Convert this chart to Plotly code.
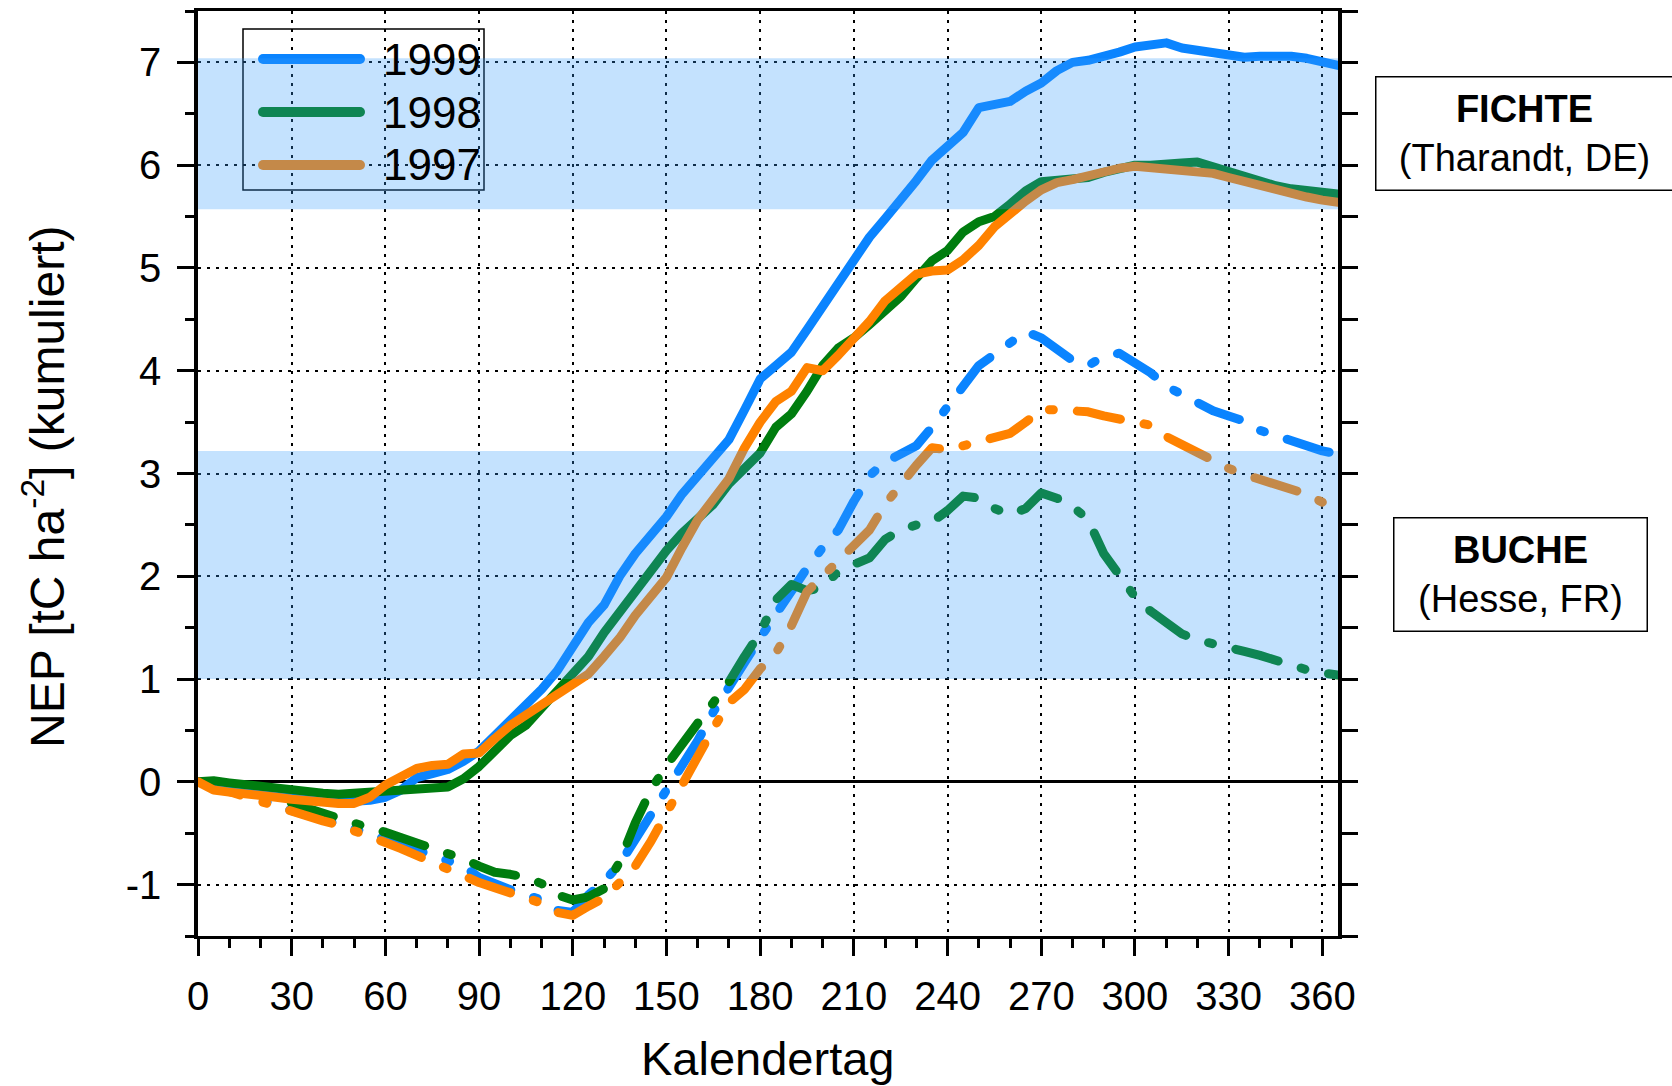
import plotly.graph_objects as go

# ---------------- data ----------------
DAYS = list(range(0, 366, 5))

# FICHTE (Tharandt, DE) - solid lines
FICHTE_1999 = [0.00, -0.02, -0.04, -0.06, -0.08, -0.10, -0.12, -0.14, -0.16, -0.18,
               -0.19, -0.18, -0.15, -0.08, 0.04, 0.08, 0.12, 0.20, 0.30, 0.45,
               0.60, 0.72, 0.90, 1.08, 1.30, 1.55, 1.72, 2.00, 2.22, 2.40,
               2.58, 2.80, 2.98, 3.15, 3.33, 3.62, 3.92, 4.05, 4.18, 4.40,
               4.62, 4.85, 5.07, 5.30, 5.48, 5.65, 5.85, 6.05, 6.20, 6.32,
               6.56, 6.60, 6.62, 6.72, 6.80, 6.92, 7.00, 7.02, 7.05, 7.10,
               7.15, 7.17, 7.19, 7.14, 7.12, 7.09, 7.06, 7.05, 7.06, 7.07,
               7.06, 7.04, 7.01, 6.97]
FICHTE_1998 = [0.00, 0.01, -0.01, -0.03, -0.04, -0.06, -0.08, -0.09, -0.11, -0.12,
               -0.11, -0.10, -0.11, -0.10, -0.08, -0.06, -0.05, 0.03, 0.15, 0.30,
               0.45, 0.55, 0.72, 0.90, 1.05, 1.22, 1.45, 1.65, 1.88, 2.05,
               2.25, 2.42, 2.55, 2.70, 2.90, 3.05, 3.20, 3.45, 3.58, 3.80,
               4.05, 4.22, 4.32, 4.45, 4.58, 4.72, 4.90, 5.07, 5.17, 5.35,
               5.45, 5.50, 5.62, 5.75, 5.84, 5.85, 5.85, 5.88, 5.93, 5.97,
               6.00, 6.00, 6.00, 6.02, 6.03, 5.98, 5.93, 5.88, 5.84, 5.80,
               5.77, 5.75, 5.74, 5.72]
FICHTE_1997 = [0.00, -0.08, -0.10, -0.11, -0.13, -0.15, -0.17, -0.19, -0.20, -0.21,
               -0.21, -0.15, -0.03, 0.05, 0.13, 0.16, 0.17, 0.27, 0.28, 0.42,
               0.55, 0.65, 0.75, 0.85, 0.93, 1.05, 1.22, 1.40, 1.62, 1.80,
               1.99, 2.28, 2.55, 2.75, 2.95, 3.25, 3.50, 3.70, 3.80, 4.03,
               4.00, 4.15, 4.30, 4.48, 4.68, 4.80, 4.94, 4.97, 4.98, 5.08,
               5.22, 5.40, 5.53, 5.65, 5.76, 5.83, 5.86, 5.90, 5.94, 5.97,
               5.99, 5.98, 5.96, 5.95, 5.94, 5.92, 5.88, 5.84, 5.79, 5.75,
               5.72, 5.69, 5.66, 5.64]

# BUCHE (Hesse, FR) - dash-dot lines
BUCHE_1999 = [0.00, -0.04, -0.08, -0.12, -0.17, -0.22, -0.28, -0.32, -0.36, -0.41,
              -0.46, -0.50, -0.56, -0.61, -0.67, -0.72, -0.77, -0.82, -0.93, -1.00,
              -1.05, -1.10, -1.15, -1.25, -1.27, -1.10, -0.97, -0.80, -0.56, -0.32,
              -0.10, 0.13, 0.40, 0.68, 0.93, 1.15, 1.40, 1.63, 1.87, 2.08,
              2.28, 2.45, 2.73, 2.98, 3.11, 3.20, 3.27, 3.45, 3.65, 3.85,
              4.05, 4.16, 4.26, 4.38, 4.32, 4.22, 4.10, 4.05, 4.14, 4.17,
              4.08, 3.98, 3.85, 3.77, 3.68, 3.61, 3.56, 3.51, 3.42, 3.37,
              3.31, 3.26, 3.22, 3.19]
BUCHE_1998 = [0.00, -0.02, -0.04, -0.07, -0.11, -0.16, -0.22, -0.27, -0.31, -0.35,
              -0.40, -0.45, -0.49, -0.54, -0.60, -0.66, -0.71, -0.75, -0.82, -0.88,
              -0.90, -0.93, -0.99, -1.10, -1.15, -1.12, -1.04, -0.78, -0.40, -0.08,
              0.16, 0.38, 0.57, 0.77, 0.97, 1.22, 1.45, 1.77, 1.92, 1.86,
              1.89, 2.05, 2.11, 2.18, 2.36, 2.45, 2.50, 2.53, 2.64, 2.78,
              2.76, 2.66, 2.60, 2.66, 2.81, 2.76, 2.68, 2.55, 2.22, 2.01,
              1.80, 1.66, 1.56, 1.44, 1.38, 1.35, 1.31, 1.27, 1.23, 1.18,
              1.13, 1.09, 1.06, 1.04]
BUCHE_1997 = [0.00, -0.05, -0.10, -0.15, -0.20, -0.25, -0.30, -0.34, -0.38, -0.42,
              -0.47, -0.52, -0.59, -0.65, -0.72, -0.78, -0.85, -0.91, -0.98, -1.03,
              -1.08, -1.13, -1.18, -1.27, -1.30, -1.21, -1.13, -0.98, -0.82, -0.58,
              -0.30, -0.03, 0.28, 0.52, 0.77, 0.90, 1.10, 1.25, 1.52, 1.85,
              2.00, 2.15, 2.30, 2.45, 2.70, 2.90, 3.08, 3.25, 3.23, 3.27,
              3.31, 3.35, 3.39, 3.50, 3.62, 3.62, 3.62, 3.60, 3.56, 3.53,
              3.50, 3.47, 3.36, 3.28, 3.19, 3.13, 3.05, 2.99, 2.94, 2.90,
              2.85, 2.80, 2.72, 2.67]

# shaded ranges (NEP units)
BAND_FICHTE = [5.57, 7.04]
BAND_BUCHE = [1.00, 3.22]

YEARS = ["1999", "1998", "1997"]
X_TICKS = [0, 30, 60, 90, 120, 150, 180, 210, 240, 270, 300, 330, 360]
X_TICK_TEXT = [str(v) for v in X_TICKS]
Y_TICKS = [-1, 0, 1, 2, 3, 4, 5, 6, 7]
Y_TICK_TEXT = ["-1", "0", "1", "2", "3", "4", "5", "6", "7"]

X_TITLE = "Kalendertag"
Y_TITLE = "NEP [tC ha<sup>-2</sup>] (kumuliert)"
FICHTE_LABEL = "<b>FICHTE</b><br>(Tharandt, DE)"
BUCHE_LABEL = "<b>BUCHE</b><br>(Hesse, FR)"

# ---------------- styles ----------------
FONT = "Liberation Sans, Arial, Helvetica, sans-serif"
COLORS = {"1999": "rgb(10,132,255)", "1998": "rgb(0,125,15)", "1997": "rgb(255,130,0)"}
LW = 9
DASHDOT = "44px,24px,4px,24px"

fig = go.Figure()

buche = {"1999": BUCHE_1999, "1998": BUCHE_1998, "1997": BUCHE_1997}
fichte = {"1999": FICHTE_1999, "1998": FICHTE_1998, "1997": FICHTE_1997}

for yr in YEARS:
    fig.add_trace(go.Scatter(x=DAYS, y=buche[yr], mode="lines", name="Buche " + yr,
                             line=dict(color=COLORS[yr], width=LW, dash=DASHDOT),
                             showlegend=False, hoverinfo="skip"))
for yr in YEARS:
    fig.add_trace(go.Scatter(x=DAYS, y=fichte[yr], mode="lines", name="Fichte " + yr,
                             line=dict(color=COLORS[yr], width=LW),
                             showlegend=False, hoverinfo="skip"))
# empty trace so that the right-hand tick axis is drawn
fig.add_trace(go.Scatter(x=[], y=[], yaxis="y2", showlegend=False, hoverinfo="skip"))

# plot area in pixels: left 198, right 1338, top 11, bottom 936
PL, PR, PT, PB = 198, 1338, 11, 936
W, H = PR - PL, PB - PT


def px(x):
    return (x - PL) / W


def py(y):
    return (PB - y) / H


shapes = []
# custom legend
shapes.append(dict(type="rect", xref="paper", yref="paper", x0=px(243), x1=px(484),
                   y0=py(190), y1=py(29), line=dict(color="black", width=1.5),
                   fillcolor="rgba(0,0,0,0)", layer="above"))
rows = [59, 112, 165]
annotations = []
for yr, ry in zip(YEARS, rows):
    shapes.append(dict(type="line", xref="paper", yref="paper", x0=px(263), x1=px(360),
                       y0=py(ry), y1=py(ry), line=dict(color=COLORS[yr], width=10),
                       layer="above"))
    annotations.append(dict(xref="paper", yref="paper", x=px(381), y=py(ry),
                            xanchor="left", yanchor="middle", text=yr, showarrow=False,
                            font=dict(family=FONT, size=44, color="black")))

# shaded bands, drawn over the lines like the stipple overlay in the original
for band in (BAND_FICHTE, BAND_BUCHE):
    shapes.append(dict(type="rect", xref="paper", yref="y", x0=0, x1=1,
                       y0=band[0], y1=band[1], line=dict(width=0),
                       fillcolor="rgba(50,155,250,0.29)", layer="above"))

# site boxes
annotations.append(dict(xref="paper", yref="paper", x=px(1524), y=py(133),
                        xanchor="center", yanchor="middle", text=FICHTE_LABEL,
                        showarrow=False, width=292, height=108, borderpad=2,
                        bordercolor="black", borderwidth=1.5, bgcolor="white",
                        font=dict(family=FONT, size=38, color="black")))
annotations.append(dict(xref="paper", yref="paper", x=px(1520.5), y=py(574),
                        xanchor="center", yanchor="middle", text=BUCHE_LABEL,
                        showarrow=False, width=248, height=108, borderpad=2,
                        bordercolor="black", borderwidth=1.5, bgcolor="white",
                        font=dict(family=FONT, size=38, color="black")))
# axis titles
annotations.append(dict(xref="paper", yref="paper", x=px(767), y=py(1058),
                        xanchor="center", yanchor="middle", text=X_TITLE, showarrow=False,
                        font=dict(family=FONT, size=47, color="black")))
annotations.append(dict(xref="paper", yref="paper", x=px(44), y=py(487),
                        xanchor="center", yanchor="middle", text=Y_TITLE, showarrow=False,
                        textangle=-90, font=dict(family=FONT, size=48, color="black")))

axis_common = dict(
    showline=True, linecolor="black", ticks="outside", ticklen=17, tickwidth=3,
    tickcolor="black", showgrid=True, gridcolor="black", gridwidth=1.6,
    griddash="3px,6px", tickfont=dict(family=FONT, size=40, color="black"),
    automargin=False,
)

fig.update_layout(
    width=1672, height=1086,
    margin=dict(l=PL, r=1672 - PR, t=PT, b=1086 - PB, pad=0),
    paper_bgcolor="white", plot_bgcolor="white",
    showlegend=False,
    xaxis=dict(range=[0, 365], tickmode="array", tickvals=X_TICKS, ticktext=X_TICK_TEXT,
               linewidth=3, mirror=True, zeroline=False, ticklabelstandoff=6,
               minor=dict(tickmode="linear", tick0=0, dtick=10, ticks="outside",
                          ticklen=9, tickwidth=3, tickcolor="black", showgrid=False),
               **axis_common),
    yaxis=dict(range=[-1.5, 7.5], tickmode="array", tickvals=Y_TICKS, ticktext=Y_TICK_TEXT,
               linewidth=3.5, mirror=True, zeroline=True, zerolinecolor="black",
               zerolinewidth=3, ticklabelstandoff=8,
               minor=dict(tickmode="linear", tick0=0, dtick=0.5, ticks="outside",
                          ticklen=9, tickwidth=3, tickcolor="black", showgrid=False),
               **axis_common),
    yaxis2=dict(range=[-1.5, 7.5], overlaying="y", side="right", anchor="x",
                tickmode="linear", tick0=0, dtick=0.5, ticks="outside", ticklen=19,
                tickwidth=3, tickcolor="black", showticklabels=False, showgrid=False,
                zeroline=False, showline=False, automargin=False),
    shapes=shapes,
    annotations=annotations,
)

post = """
document.body.style.margin = '0';
document.body.style.overflow = 'hidden';
var gd = document.getElementById('{plot_id}');
gd.querySelectorAll('.scatterlayer .js-line').forEach(function(p){
  p.style.strokeLinecap='round'; p.style.strokeLinejoin='round';});
gd.querySelectorAll('.shapelayer path').forEach(function(p){
  p.style.strokeLinecap='round';});
"""

fig.write_html("out.html", post_script=post, config={"displayModeBar": False})
